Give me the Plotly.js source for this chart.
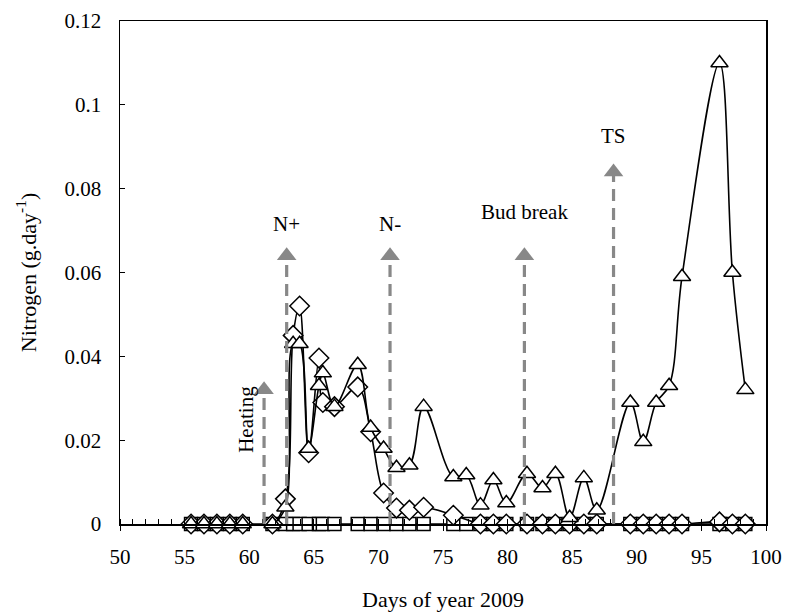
<!DOCTYPE html>
<html>
<head>
<meta charset="utf-8">
<script src="https://cdn.plot.ly/plotly-3.0.1.min.js"></script>
<style>html,body{margin:0;padding:0;background:#fff;}#chart{width:786px;height:613px;}</style>
</head>
<body>
<div id="chart"></div>
<script>
// Day of year for each sample
const days = [55.5,56.5,57.5,58.5,59.5,
  61.8,62.8,63.4,63.9,64.6,65.4,65.7,66.6,
  68.4,69.4,70.4,71.4,72.4,73.5,
  75.8,76.8,77.9,78.9,79.9,
  81.5,82.7,83.7,84.8,85.9,86.9,
  89.5,90.5,91.5,92.5,93.5,
  96.4,97.4,98.4];
// Triangle series (g N per day)
const triangleVals = [0,0,0,0,0,
  0,0.004,0.043,0.043,0.018,0.033,0.036,0.028,
  0.038,0.023,0.018,0.0134,0.014,0.028,
  0.0112,0.0117,0.0045,0.0105,0.005,
  0.012,0.0086,0.012,0.0015,0.011,0.0033,
  0.029,0.0196,0.029,0.033,0.059,
  0.110,0.060,0.032];
// Diamond series
const diamondVals = [0,0,0,0,0,
  0,0.006,0.045,0.052,0.017,0.0396,0.029,0.028,
  0.0327,0.022,0.0074,0.0038,0.0033,0.004,
  0.0021,null,0,0,0,
  0,0,0,0,0,0,
  0,0,0,0,0,
  0.0005,0,0];
// Square series
const squareVals = [0,0,0,0,0,
  0,0,0,0,0,0,0,0,
  0,0,0,0,0,0,
  0,0,0,0,0,
  0,0,0,0,0,0,
  0,0,0,0,0,
  0,0,0];
// Event markers (arrow head positions and labels)
const eventNames = ['Heating','N+','N-','Bud break','TS'];
const eventDays = [61.15,62.9,70.9,81.3,88.2];
const eventTips = [0.032,0.064,0.064,0.064,0.084];
const labelX = [59.8,62.9,70.9,81.3,88.2];
const labelY = [0.025,0.0715,0.0715,0.0745,0.0925];

const FONT = '"Liberation Serif", "Times New Roman", serif';

function series(y, symbol, size) {
  return {
    x: days, y: y, type: 'scatter', mode: 'lines+markers',
    cliponaxis: false, connectgaps: true,
    line: {color: 'black', width: 1.6, shape: 'spline', smoothing: 1},
    marker: {symbol: symbol, size: size, color: 'white', line: {color: 'black', width: 1.5}},
    hoverinfo: 'x+y'
  };
}
const data = [
  series(squareVals, 'square', 13),
  series(diamondVals, 'diamond', 15),
  series(triangleVals, 'triangle-up', 15),
  {
    x: eventDays, y: eventTips, type: 'scatter', mode: 'markers', cliponaxis: false,
    marker: {symbol: 'triangle-up', size: 17, color: '#888888', line: {width: 0}},
    hoverinfo: 'skip'
  }
];

const shapes = [];
const annotations = [];
eventDays.forEach((d, i) => {
  shapes.push({type: 'line', xref: 'x', yref: 'y', x0: d, x1: d, y0: 0, y1: eventTips[i],
    line: {color: '#888888', width: 3.2, dash: '12px,7px'}, layer: 'above'});
  annotations.push({x: labelX[i], y: labelY[i], xref: 'x', yref: 'y', text: eventNames[i],
    showarrow: false, textangle: eventNames[i] === 'Heating' ? -90 : 0,
    font: {family: FONT, size: 21, color: 'black'}});
});

const layout = {
  width: 786, height: 613,
  margin: {l: 120, r: 20, t: 21, b: 89},
  paper_bgcolor: 'white', plot_bgcolor: 'white',
  showlegend: false,
  font: {family: FONT, size: 21, color: 'black'},
  xaxis: {
    range: [50, 100], tick0: 50, dtick: 5, ticks: 'outside', ticklen: 5, tickcolor: 'black',
    showline: true, linecolor: 'black', linewidth: 1.5, mirror: true,
    showgrid: false, zeroline: false, automargin: false,
    minor: {ticks: 'inside', dtick: 1, ticklen: 5, tickcolor: 'black', showgrid: false},
    tickfont: {family: FONT, size: 21}, ticklabelstandoff: 8,
    title: {text: 'Days of year 2009', font: {family: FONT, size: 22}, standoff: 24}
  },
  yaxis: {
    range: [0, 0.12], dtick: 0.02, ticks: 'inside', ticklen: 5, tickcolor: 'black',
    showline: true, linecolor: 'black', linewidth: 1.5, mirror: true,
    showgrid: false, zeroline: false, automargin: false,
    tickfont: {family: FONT, size: 21}, ticklabelstandoff: 13,
    title: {text: 'Nitrogen (g.day<sup>-1</sup>)', font: {family: FONT, size: 22}, standoff: 22}
  },
  shapes: shapes,
  annotations: annotations
};

Plotly.newPlot('chart', data, layout, {displayModeBar: false, staticPlot: true});
</script>
</body>
</html>
